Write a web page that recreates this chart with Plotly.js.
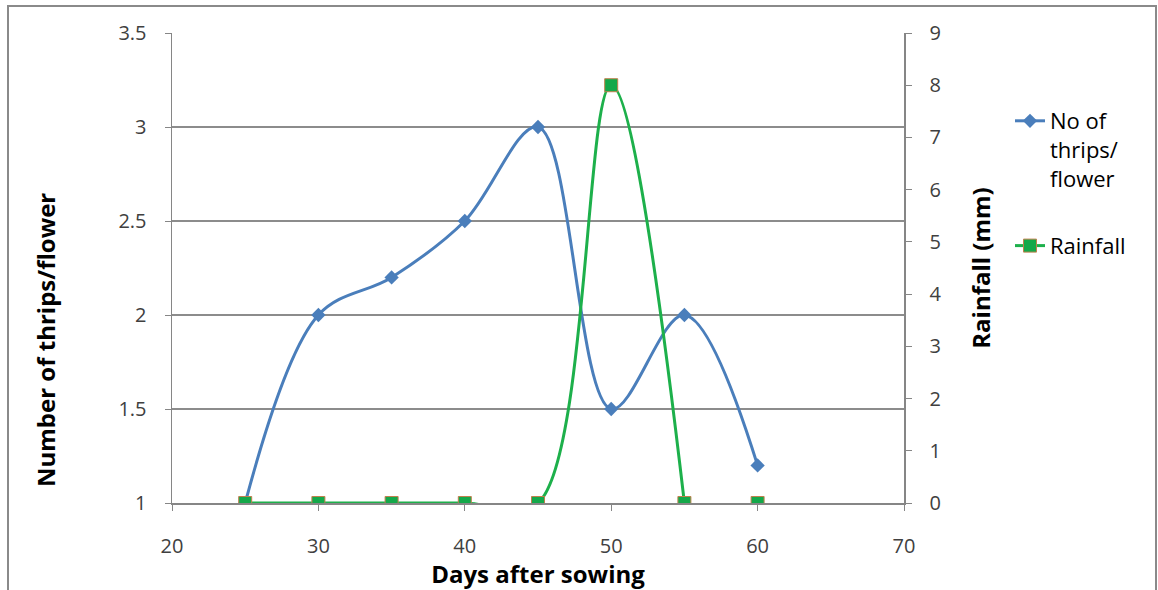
<!DOCTYPE html>
<html>
<head>
<meta charset="utf-8">
<script src="https://cdn.plot.ly/plotly-3.0.1.min.js"></script>
<style>html,body{margin:0;padding:0;background:#fff;}#chart{width:1158px;height:590px;}</style>
</head>
<body>
<div id="chart"></div>
<script>
const days = [25, 30, 35, 40, 45, 50, 55, 60];
const thrips = [1, 2, 2.2, 2.5, 3, 1.5, 2, 1.2];
const rainfall = [0, 0, 0, 0, 0, 8, 0, 0];
const rainLinePoints = 7; // line drawn through the first 7 rainfall points
const xTicks = [20, 30, 40, 50, 60, 70];

const W = 1158, H = 590;
const L = 172, R = W - 904, T = 33, B = H - 503;
const pw = W - L - R, ph = H - T - B;
const px = x => (x - L) / pw;
const py = y => (H - B - y) / ph;

const FAM = '"Open Sans", sans-serif';
const tickFont = {family: FAM, size: 20, color: '#404040'};
const titleFont = {family: FAM, size: 24, color: '#000'};

const traces = [
  {
    x: days, y: thrips, name: 'No of<br>thrips/<br>flower', type: 'scatter', mode: 'lines+markers',
    line: {color: '#4a7ebb', width: 3, shape: 'spline', smoothing: 1},
    marker: {symbol: 'diamond', size: 11, color: '#4a7ebb'},
    xaxis: 'x', yaxis: 'y', legendgroup: 'a'
  },
  {
    x: days.slice(0, rainLinePoints), y: rainfall.slice(0, rainLinePoints), name: 'Rainfall', type: 'scatter', mode: 'lines+markers',
    line: {color: '#1db04b', width: 3, shape: 'spline', smoothing: 1},
    marker: {symbol: 'square', size: 13, color: '#14a84a', line: {color: '#c0804d', width: 1}},
    xaxis: 'x', yaxis: 'y2', legendgroup: 'b'
  },
  {
    x: days.slice(rainLinePoints), y: rainfall.slice(rainLinePoints), name: 'Rainfall', type: 'scatter', mode: 'markers',
    marker: {symbol: 'square', size: 13, color: '#14a84a', line: {color: '#c0804d', width: 1}},
    xaxis: 'x', yaxis: 'y2', showlegend: false
  }
];

const layout = {
  width: W, height: H,
  margin: {l: L, r: R, t: T, b: B, pad: 0},
  paper_bgcolor: '#fff', plot_bgcolor: '#fff',
  showlegend: true,
  legend: {
    x: px(1010), y: py(100), xanchor: 'left', yanchor: 'top',
    font: {family: FAM, size: 22, color: '#000'},
    valign: 'top', tracegroupgap: 36, bgcolor: 'rgba(0,0,0,0)'
  },
  xaxis: {
    range: [20, 70], tickvals: xTicks, ticktext: xTicks.map(String),
    showgrid: false, zeroline: false, showline: true, linecolor: '#868686', linewidth: 1.5,
    ticks: 'outside', ticklen: 6, tickcolor: '#868686', tickfont: tickFont, ticklabelstandoff: 18,
    title: {text: '<b>Days after sowing</b>', font: titleFont, standoff: 0}
  },
  yaxis: {
    range: [1, 3.5], dtick: 0.5, tick0: 1,
    showgrid: true, gridcolor: '#8c8c8c', gridwidth: 1.5, zeroline: false,
    showline: true, linecolor: '#868686', linewidth: 1.5,
    ticks: 'outside', ticklen: 6, tickcolor: '#868686', tickfont: tickFont, ticklabelstandoff: 14
  },
  yaxis2: {
    range: [0, 9], dtick: 1, tick0: 0, overlaying: 'y', side: 'right',
    showgrid: false, zeroline: false, showline: true, linecolor: '#868686', linewidth: 1.5,
    ticks: 'outside', ticklen: 6, tickcolor: '#868686', tickfont: tickFont, ticklabelstandoff: 14,
    title: {text: '<b>Rainfall (mm)</b>', font: titleFont, standoff: 32}
  },
  annotations: [
    {text: '<b>Number of thrips/flower</b>', xref: 'paper', yref: 'paper', x: px(45), y: py(340),
     xanchor: 'center', yanchor: 'middle', textangle: -90, showarrow: false, font: titleFont}
  ],
  shapes: [
    {type: 'rect', xref: 'paper', yref: 'paper', x0: px(8), x1: px(1156), y0: py(598), y1: py(6),
     line: {color: '#8a8a8a', width: 2}, fillcolor: 'rgba(0,0,0,0)', layer: 'below'}
  ]
};

Plotly.newPlot('chart', traces, layout, {displayModeBar: false, staticPlot: true});
</script>
</body>
</html>
